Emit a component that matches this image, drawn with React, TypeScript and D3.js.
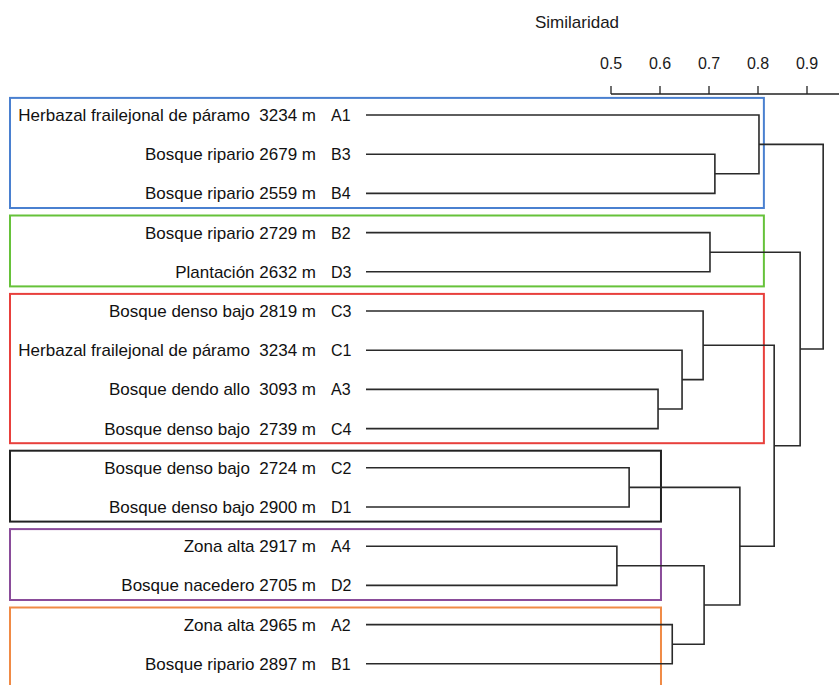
import { scaleLinear, scalePoint } from 'd3'

const leafCodes = ['A1', 'B3', 'B4', 'B2', 'D3', 'C3', 'C1', 'A3', 'C4', 'C2', 'D1', 'A4', 'D2', 'A2', 'B1']

const leafNames = [
  'Herbazal frailejonal de páramo  3234 m',
  'Bosque ripario 2679 m',
  'Bosque ripario 2559 m',
  'Bosque ripario 2729 m',
  'Plantación 2632 m',
  'Bosque denso bajo 2819 m',
  'Herbazal frailejonal de páramo  3234 m',
  'Bosque dendo allo  3093 m',
  'Bosque denso bajo  2739 m',
  'Bosque denso bajo  2724 m',
  'Bosque denso bajo 2900 m',
  'Zona alta 2917 m',
  'Bosque nacedero 2705 m',
  'Zona alta 2965 m',
  'Bosque ripario 2897 m',
]

// merges: [id, left child, right child, similarity]
const merges: [string, string, string, number][] = [
  ['m1', 'B3', 'B4', 0.712],
  ['m2', 'A1', 'm1', 0.802],
  ['m3', 'B2', 'D3', 0.702],
  ['m4', 'A3', 'C4', 0.596],
  ['m5', 'C1', 'm4', 0.645],
  ['m6', 'C3', 'm5', 0.688],
  ['m7', 'C2', 'D1', 0.537],
  ['m8', 'A4', 'D2', 0.512],
  ['m9', 'A2', 'B1', 0.625],
  ['m10', 'm8', 'm9', 0.69],
  ['m11', 'm7', 'm10', 0.763],
  ['m12', 'm6', 'm11', 0.833],
  ['m13', 'm3', 'm12', 0.886],
  ['m14', 'm2', 'm13', 0.933],
]

const axisTicks = [0.5, 0.6, 0.7, 0.8, 0.9]

// groups: [first leaf, last leaf, cut similarity]
const groups: [string, string, number][] = [
  ['A1', 'B4', 0.812],
  ['B2', 'D3', 0.812],
  ['C3', 'C4', 0.812],
  ['C2', 'D1', 0.602],
  ['A4', 'D2', 0.602],
  ['A2', 'B1', 0.602],
]
const groupColors = ['#4a80d0', '#66c23a', '#e8403c', '#222222', '#8a4c9a', '#f08a45']

const FONT = '"Liberation Sans", Arial, sans-serif'

export default function App() {
  const width = 839
  const height = 685
  const x = scaleLinear().domain([0, 1]).range([366, 856])
  const y = scalePoint<string>().domain(leafCodes).range([115, 663.8])
  const step = y.step()

  const pos = new Map<string, { x: number; y: number }>()
  leafCodes.forEach((code) => pos.set(code, { x: x(0), y: y(code) ?? 0 }))
  const paths = merges.map(([id, a, b, s]) => {
    const pa = pos.get(a)!
    const pb = pos.get(b)!
    const mx = x(s)
    pos.set(id, { x: mx, y: (pa.y + pb.y) / 2 })
    return { id, d: `M${pa.x},${pa.y}H${mx}V${pb.y}H${pb.x}` }
  })

  const axisY = 94
  const boxLeft = 10

  return (
    <div style={{ position: 'absolute', left: 0, top: 0, width, height, background: '#fff' }}>
      <svg width={width} height={height} style={{ display: 'block', fontFamily: FONT }}>
        <text x={577} y={28} fontSize={17} textAnchor="middle" fill="#1a1a1a">
          Similaridad
        </text>

        <line x1={x(0.5)} x2={x(1)} y1={axisY} y2={axisY} stroke="#222" strokeWidth={1.6} />
        {axisTicks.map((t) => (
          <g key={t}>
            <line x1={x(t)} x2={x(t)} y1={axisY} y2={axisY - 8} stroke="#222" strokeWidth={1.3} />
            <text x={x(t)} y={69} fontSize={16} textAnchor="middle" fill="#1a1a1a">
              {t.toFixed(1)}
            </text>
          </g>
        ))}

        {groups.map(([first, last, cut], i) => {
          const top = (y(first) ?? 0) - step / 2 + 2.5
          const bottom = i === groups.length - 1 ? (y(last) ?? 0) + step : (y(last) ?? 0) + step / 2 - 5
          return (
            <rect
              key={first}
              x={boxLeft}
              y={top}
              width={x(cut) - boxLeft}
              height={bottom - top}
              fill="none"
              stroke={groupColors[i]}
              strokeWidth={2}
            />
          )
        })}

        {paths.map((p) => (
          <path key={p.id} d={p.d} fill="none" stroke="#2a2a2a" strokeWidth={1.6} />
        ))}

        {leafCodes.map((code, i) => (
          <g key={code} fill="#111">
            <text
              x={316}
              y={(y(code) ?? 0) + 6}
              fontSize={17}
              textAnchor="end"
              xmlSpace="preserve"
              style={{ whiteSpace: 'pre' }}
            >
              {leafNames[i]}
            </text>
            <text x={331} y={(y(code) ?? 0) + 6} fontSize={16}>
              {code}
            </text>
          </g>
        ))}
      </svg>
    </div>
  )
}
